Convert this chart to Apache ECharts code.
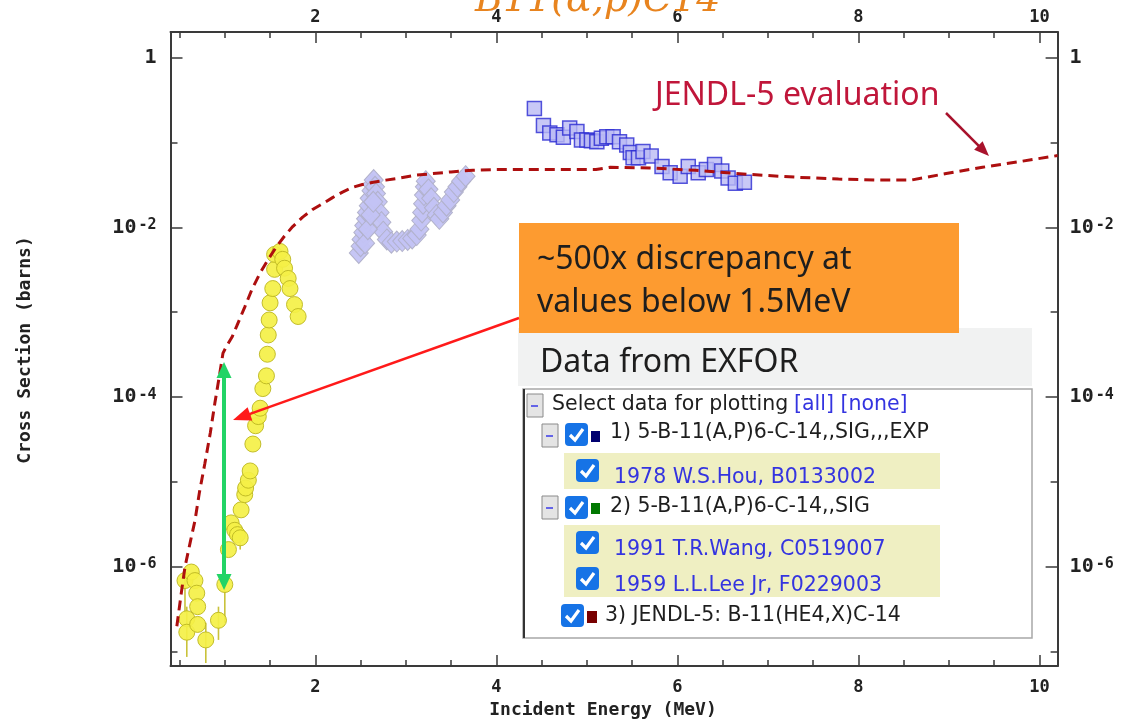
<!DOCTYPE html>
<html>
<head>
<meta charset="utf-8">
<title>B-11(a,p)C-14 cross section</title>
<script src="https://cdn.jsdelivr.net/npm/echarts@6.0.0/dist/echarts.min.js"></script>
<style>
  html, body { margin: 0; padding: 0; background: #fff; }
  #main { width: 1132px; height: 721px; }
</style>
</head>
<body>
<div id="main"></div>
<script>
// energies in MeV, cross sections in barns

// JENDL-5 evaluation (dashed curve)
var jendlE = [0.47, 0.52, 0.56, 0.62, 0.67, 0.72, 0.78, 0.84, 0.89, 0.94, 0.98, 1.02, 1.08, 1.13, 1.22, 1.30, 1.39, 1.48, 1.57, 1.66,
  1.75, 1.86, 1.97, 2.08, 2.19, 2.30, 2.41, 2.52, 2.64, 2.78, 2.93, 3.10, 3.30, 3.50, 3.74, 4.00, 4.50, 5.10, 5.26, 5.70,
  6.20, 6.80, 7.30, 7.78, 8.20, 8.58, 8.97, 9.37, 9.76, 10.20];
var jendlSig = [2.0e-7, 5.0e-7, 1.0e-6, 2.0e-6, 3.5e-6, 7.6e-6, 1.66e-5, 3.8e-5, 8.5e-5, 1.78e-4, 3.3e-4, 4.0e-4, 5.1e-4, 6.8e-4, 1.15e-3, 1.86e-3, 2.9e-3, 4.2e-3, 5.9e-3, 7.9e-3,
  1.02e-2, 1.32e-2, 1.62e-2, 1.9e-2, 2.24e-2, 2.6e-2, 2.95e-2, 3.2e-2, 3.4e-2, 3.6e-2, 3.8e-2, 4.1e-2, 4.3e-2, 4.5e-2, 4.7e-2, 4.8e-2, 4.8e-2, 4.8e-2, 5.1e-2, 5.0e-2,
  4.7e-2, 4.2e-2, 3.9e-2, 3.7e-2, 3.6e-2, 3.6e-2, 4.3e-2, 5.1e-2, 5.9e-2, 7.0e-2];

// 1959 L.L.Lee Jr (yellow circles)
var leeE = [0.56, 0.58, 0.58, 0.63, 0.67, 0.69, 0.70, 0.70, 0.79, 0.93, 1.00, 1.04, 1.07, 1.11, 1.14, 1.17, 1.18, 1.22, 1.23, 1.26,
  1.28, 1.31, 1.34, 1.37, 1.39, 1.42, 1.46, 1.47, 1.48, 1.49, 1.50, 1.53, 1.55, 1.55, 1.61, 1.64, 1.66, 1.70, 1.72, 1.77, 1.81];
var leeSig = [6.9e-7, 2.45e-7, 1.7e-7, 8.7e-7, 6.9e-7, 4.9e-7, 3.4e-7, 2.1e-7, 1.38e-7, 2.35e-7, 6.2e-7, 1.6e-6, 3.3e-6, 2.7e-6, 2.4e-6, 2.2e-6, 4.7e-6, 7.1e-6, 8.5e-6, 1.05e-5,
  1.35e-5, 2.8e-5, 4.6e-5, 5.9e-5, 7.4e-5, 1.26e-4, 1.78e-4, 3.2e-4, 5.4e-4, 8.1e-4, 1.29e-3, 1.9e-3, 3.2e-3, 4.8e-3, 5.2e-3, 4.2e-3, 3.3e-3, 2.5e-3, 1.9e-3, 1.23e-3, 8.9e-4];
// error bars on the low points
var leeErrE = [0.56, 0.58, 0.79, 0.93, 1.00, 1.17];
var leeErrLo = [2.9e-7, 8.7e-8, 7.4e-8, 1.38e-7, 2.2e-7, 1.6e-6];
var leeErrHi = [9.0e-7, 3.4e-7, 2.2e-7, 3.4e-7, 7.0e-7, 2.6e-6];

// 1991 T.R.Wang (lavender diamonds)
var wangE = [2.48, 2.50, 2.51, 2.53, 2.54, 2.56, 2.57, 2.59, 2.60, 2.62, 2.63, 2.645, 2.66, 2.67, 2.69, 2.71, 2.73, 2.75, 2.79, 2.84,
  2.90, 2.96, 3.02, 3.07, 3.12, 3.15, 3.17, 3.18, 3.19, 3.20, 3.21, 3.22, 3.25, 3.28, 3.31, 3.34, 3.37, 3.41, 3.45, 3.49,
  3.53, 3.57, 3.61, 3.66, 2.55, 2.58, 2.61, 2.64];
var wangSig = [5.0e-3, 6.0e-3, 7.2e-3, 8.7e-3, 1.05e-2, 1.26e-2, 1.5e-2, 1.8e-2, 2.2e-2, 2.7e-2, 3.2e-2, 3.6e-2, 3.0e-2, 2.5e-2, 2.0e-2, 1.5e-2, 1.15e-2, 8.9e-3, 7.2e-3, 6.6e-3,
  6.8e-3, 6.9e-3, 7.1e-3, 7.4e-3, 8.1e-3, 9.5e-3, 1.2e-2, 1.5e-2, 1.9e-2, 2.4e-2, 3.0e-2, 3.5e-2, 2.8e-2, 2.2e-2, 1.7e-2, 1.4e-2, 1.26e-2, 1.5e-2, 1.8e-2, 2.1e-2,
  2.6e-2, 3.0e-2, 3.5e-2, 4.0e-2, 6.5e-3, 9.5e-3, 1.4e-2, 2.0e-2];

// 1978 W.S.Hou (blue squares)
var houE = [4.42, 4.52, 4.59, 4.67, 4.74, 4.81, 4.89, 4.94, 5.00, 5.05, 5.11, 5.16, 5.22, 5.29, 5.36, 5.44, 5.48, 5.51, 5.57, 5.62,
  5.71, 5.83, 5.92, 6.03, 6.12, 6.23, 6.32, 6.41, 6.49, 6.56, 6.64, 6.74];
var houSig = [0.251, 0.158, 0.129, 0.123, 0.115, 0.148, 0.135, 0.107, 0.107, 0.105, 0.102, 0.112, 0.117, 0.117, 0.102, 0.093, 0.076, 0.066, 0.066, 0.078,
  0.069, 0.052, 0.044, 0.040, 0.052, 0.044, 0.048, 0.055, 0.046, 0.038, 0.033, 0.034];

// ticks
var xTickLabels = [2, 4, 6, 8, 10];
var xMinorTicks = [0.5, 1, 1.5, 2, 2.5, 3, 3.5, 4, 4.5, 5, 5.5, 6, 6.5, 7, 7.5, 8, 8.5, 9, 9.5, 10];
var yTickLabels = [1e-6, 1e-4, 1e-2, 1];
var yMinorTicks = [1e-7, 1e-5, 1e-3, 1e-1];

function pairs(xs, ys) {
  return xs.map(function (x, i) { return [x, ys[i]]; });
}

var chart = echarts.init(document.getElementById('main'));

var axisFont = 'DejaVu Sans Mono';
var frame = { show: true, lineStyle: { color: '#3a3a3a', width: 2 } };

function logLabel(v) {
  var p = Math.round(Math.log10(v));
  if (p === 0) return '{b|1}';
  return '{b|10}{s|' + (p < 0 ? '-' : '') + Math.abs(p) + '}';
}
var yRich = {
  b: { fontFamily: axisFont, fontWeight: 'bold', fontSize: 20, color: '#222' },
  s: { fontFamily: axisFont, fontWeight: 'bold', fontSize: 15, color: '#222', verticalAlign: 'top', lineHeight: 13, padding: [0, 0, 0, 2] }
};

function xAxisPair(pos) {
  return [{
    type: 'value', position: pos, min: 0.4, max: 10.2,
    axisLine: frame,
    splitLine: { show: false },
    axisTick: { inside: true, length: 11, customValues: xTickLabels, lineStyle: { color: '#3a3a3a', width: 1.5 } },
    axisLabel: {
      customValues: xTickLabels, margin: pos === 'bottom' ? 13 : 6,
      fontFamily: axisFont, fontWeight: 'bold', fontSize: 17, color: '#222'
    }
  }, {
    type: 'value', position: pos, min: 0.4, max: 10.2,
    axisLine: { show: false },
    splitLine: { show: false },
    axisTick: { inside: true, length: 6, customValues: xMinorTicks, lineStyle: { color: '#3a3a3a', width: 1.5 } },
    axisLabel: { show: false }
  }];
}

function yAxisPair(pos) {
  return [{
    type: 'log', position: pos, min: 6.8e-8, max: 2,
    axisLine: frame,
    splitLine: { show: false },
    axisTick: { inside: true, length: 12, customValues: yTickLabels, lineStyle: { color: '#3a3a3a', width: 1.5 } },
    axisLabel: {
      customValues: yTickLabels, margin: pos === 'left' ? 14 : 12,
      formatter: logLabel, rich: yRich
    }
  }, {
    type: 'log', position: pos, min: 6.8e-8, max: 2,
    axisLine: { show: false },
    splitLine: { show: false },
    axisTick: { inside: true, length: 7, customValues: yMinorTicks, lineStyle: { color: '#3a3a3a', width: 1.5 } },
    axisLabel: { show: false }
  }];
}

function arrowHead(x1, y1, x2, y2, len, w) {
  var a = Math.atan2(y2 - y1, x2 - x1), c = Math.cos(a), s = Math.sin(a);
  var bx = x2 - len * c, by = y2 - len * s;
  return [[x2, y2], [bx - w / 2 * s, by + w / 2 * c], [bx + w / 2 * s, by - w / 2 * c]];
}
function arrow(x1, y1, x2, y2, color, width, len, w) {
  var a = Math.atan2(y2 - y1, x2 - x1);
  return [
    { type: 'line', z: 100, shape: { x1: x1, y1: y1, x2: x2 - len * 0.8 * Math.cos(a), y2: y2 - len * 0.8 * Math.sin(a) },
      style: { stroke: color, lineWidth: width } },
    { type: 'polygon', z: 100, shape: { points: arrowHead(x1, y1, x2, y2, len, w) }, style: { fill: color } }
  ];
}
function txt(x, y, s, font, color, align) {
  align = align || 'left';
  return { type: 'text', z: 101, x: x, y: y,
    style: { text: s, font: font, fill: color, align: align, verticalAlign: 'middle', textAlign: align, textVerticalAlign: 'middle' } };
}
function checkbox(x, y) {
  return [
    { type: 'rect', z: 101, shape: { x: x, y: y, width: 23, height: 23, r: 4 }, style: { fill: '#1673e6' } },
    { type: 'polyline', z: 102, shape: { points: [[x + 5, y + 12], [x + 10, y + 17], [x + 18, y + 6]] },
      style: { stroke: '#fff', lineWidth: 3.2, fill: null } }
  ];
}
function minusBox(x, y) {
  return [
    { type: 'rect', z: 101, shape: { x: x, y: y, width: 16, height: 23 }, style: { fill: '#e4e4e4', stroke: '#8a8a8a', lineWidth: 1 } },
    { type: 'line', z: 102, shape: { x1: x + 4, y1: y + 12, x2: x + 11, y2: y + 12 }, style: { stroke: '#3a3ae8', lineWidth: 1.5 } }
  ];
}

var panelFont = '20.5px "DejaVu Sans"';
var calloutFont = '32px "Noto Sans"';
var linkBlue = '#3434e0';

var nameTitle = txt(603, 710, 'Incident Energy (MeV)', 'bold 18px "DejaVu Sans Mono"', '#222', 'center');
var nameY = txt(25, 350, 'Cross Section (barns)', 'bold 18px "DejaVu Sans Mono"', '#222', 'center');
nameY.rotation = Math.PI / 2;

var graphics = [].concat(
  // title, cut by the top edge
  [txt(475, 1, 'B11(\u03b1,p)C14', 'italic 38px "DejaVu Serif"', '#e8841f')],
  [nameTitle, nameY],
  // JENDL label and arrow
  [txt(655, 96, 'JENDL-5 evaluation', calloutFont, '#c0163a')],
  arrow(946, 113, 989, 156, '#a8122c', 2.5, 15, 12),
  // EXFOR band
  [{ type: 'rect', z: 99, shape: { x: 518, y: 328, width: 514, height: 58 }, style: { fill: '#f1f2f2' } },
   txt(540, 363, 'Data from EXFOR', calloutFont, '#1e1e1e')],
  // orange callout
  [{ type: 'rect', z: 100, shape: { x: 519, y: 223, width: 440, height: 110 }, style: { fill: '#fd9b30' } },
   txt(537, 260, '~500x discrepancy at', calloutFont, '#1e1e1e'),
   txt(537, 303, 'values below 1.5MeV', calloutFont, '#1e1e1e')],
  // dataset selector panel
  [{ type: 'rect', z: 99, shape: { x: 523, y: 389, width: 509, height: 249 }, style: { fill: '#fff', stroke: '#a8a8a8', lineWidth: 1.5 } },
   { type: 'line', z: 100, shape: { x1: 524, y1: 389, x2: 524, y2: 638 }, style: { stroke: '#333', lineWidth: 2 } },
   { type: 'rect', z: 100, shape: { x: 564, y: 453, width: 376, height: 36 }, style: { fill: '#efefc2' } },
   { type: 'rect', z: 100, shape: { x: 564, y: 525, width: 376, height: 72 }, style: { fill: '#efefc2' } }],
  minusBox(527, 394), minusBox(542, 424), minusBox(542, 496),
  checkbox(565, 423), checkbox(576, 459), checkbox(565, 496), checkbox(576, 531), checkbox(576, 567), checkbox(561, 604),
  [{ type: 'rect', z: 101, shape: { x: 591, y: 431, width: 9, height: 11 }, style: { fill: '#000070' } },
   { type: 'rect', z: 101, shape: { x: 591, y: 503, width: 9, height: 11 }, style: { fill: '#007800' } },
   { type: 'rect', z: 101, shape: { x: 587, y: 611, width: 10, height: 12 }, style: { fill: '#780000' } },
   txt(552, 405, 'Select data for plotting', panelFont, '#1e1e1e'),
   txt(794, 405, '[all] [none]', panelFont, linkBlue),
   txt(610, 433, '1) 5-B-11(A,P)6-C-14,,SIG,,,EXP', panelFont, '#1e1e1e'),
   txt(614, 478, '1978 W.S.Hou, B0133002', panelFont, linkBlue),
   txt(610, 507, '2) 5-B-11(A,P)6-C-14,,SIG', panelFont, '#1e1e1e'),
   txt(614, 550, '1991 T.R.Wang, C0519007', panelFont, linkBlue),
   txt(614, 586, '1959 L.L.Lee Jr, F0229003', panelFont, linkBlue),
   txt(605, 616, '3) JENDL-5: B-11(HE4,X)C-14', panelFont, '#1e1e1e')],
  // arrows on the plot
  arrow(519, 318, 233, 420, '#ff1a1a', 2.5, 18, 14),
  arrow(224, 380, 224, 362, '#22d466', 4, 16, 15),
  arrow(224, 370, 224, 590, '#22d466', 4, 16, 15)
);

var option = {
  animation: false,
  backgroundColor: '#fff',
  grid: { left: 170.5, right: 74.4, top: 32, bottom: 55, containLabel: false },
  xAxis: xAxisPair('bottom').concat(xAxisPair('top')),
  yAxis: yAxisPair('left').concat(yAxisPair('right')),
  graphic: { elements: graphics },
  series: [{
    type: 'custom',
    silent: true,
    z: 2,
    data: leeErrE.map(function (e, i) { return [e, leeErrLo[i], leeErrHi[i]]; }),
    encode: { x: 0, y: [1, 2] },
    renderItem: function (params, api) {
      var lo = api.coord([api.value(0), api.value(1)]);
      var hi = api.coord([api.value(0), api.value(2)]);
      return { type: 'line', shape: { x1: lo[0], y1: lo[1], x2: hi[0], y2: hi[1] },
        style: { stroke: '#c9c23a', lineWidth: 1.6 } };
    }
  }, {
    name: '1959 L.L.Lee Jr', type: 'scatter', silent: true, z: 3,
    symbol: 'circle', symbolSize: 16,
    itemStyle: { color: '#f4f046', borderColor: '#bdb722', borderWidth: 1, opacity: 0.92 },
    data: pairs(leeE, leeSig)
  }, {
    name: '1991 T.R.Wang', type: 'scatter', silent: true, z: 3,
    symbol: 'diamond', symbolSize: [19, 21],
    itemStyle: { color: '#c3c3f4', borderColor: '#b0b0c8', borderWidth: 1, opacity: 0.95 },
    data: pairs(wangE, wangSig)
  }, {
    name: '1978 W.S.Hou', type: 'scatter', silent: true, z: 3,
    symbol: 'rect', symbolSize: 14,
    itemStyle: { color: '#babaf4', borderColor: '#2a2ad2', borderWidth: 1.5 },
    data: pairs(houE, houSig)
  }, {
    name: 'JENDL-5', type: 'line', silent: true, z: 4,
    showSymbol: false, symbol: 'none', smooth: false,
    lineStyle: { color: '#ad0f0f', width: 3, type: [10, 6] },
    data: pairs(jendlE, jendlSig)
  }]
};

chart.setOption(option);
</script>
</body>
</html>
